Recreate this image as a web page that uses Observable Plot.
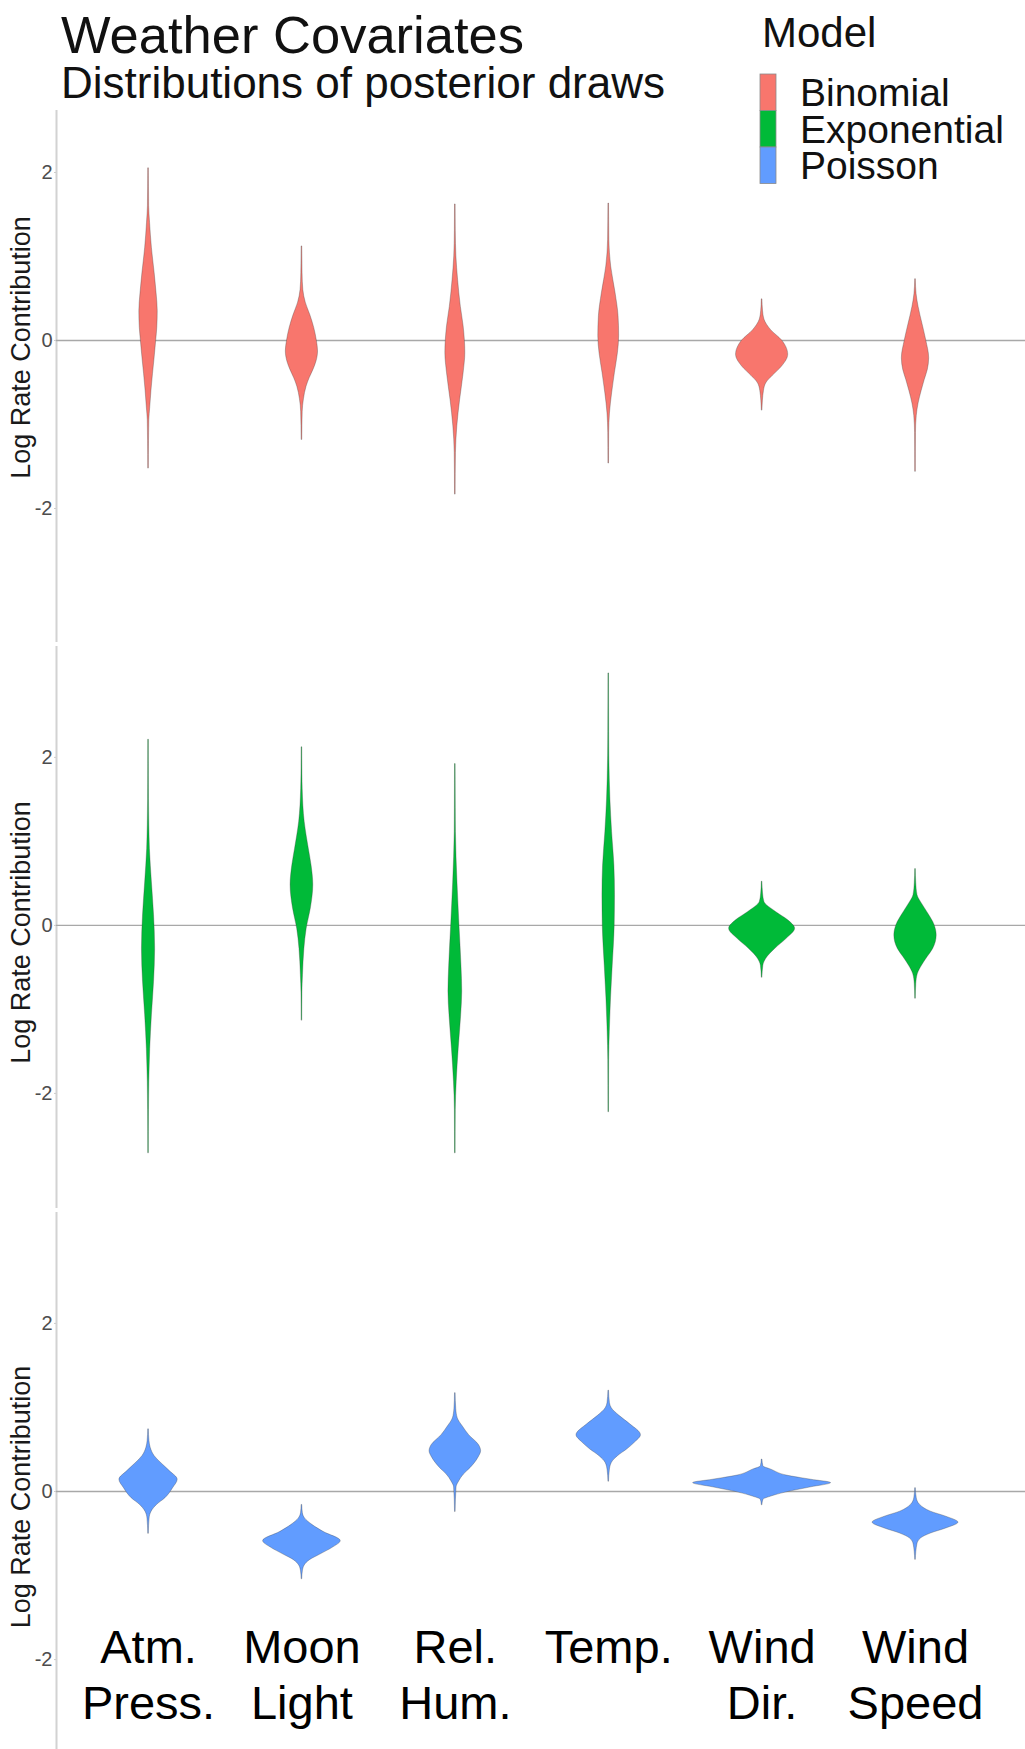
<!DOCTYPE html>
<html>
<head>
<meta charset="utf-8">
<script src="https://cdn.jsdelivr.net/npm/d3@7"></script>
<script src="https://cdn.jsdelivr.net/npm/@observablehq/plot@0.6"></script>
<style>
  html, body { margin: 0; padding: 0; background: #fff; }
  #page { position: relative; width: 1025px; height: 1749px; overflow: hidden; background: #fff;
          font-family: "Liberation Sans", Arial, Helvetica, sans-serif; }
  #page svg.panel { position: absolute; left: 0; }
  #overlay { position: absolute; left: 0; top: 0; z-index: 5; }
</style>
</head>
<body>
<div id="page"></div>
<script>
// ---------- data ----------
const covariates = ["Atm. Press.", "Moon Light", "Rel. Hum.", "Temp.", "Wind Dir.", "Wind Speed"];
const covariateLabels = ["Atm.\nPress.", "Moon\nLight", "Rel.\nHum.", "Temp.", "Wind\nDir.", "Wind\nSpeed"];
const models = ["Binomial", "Exponential", "Poisson"];
const modelColors = ["#F8766D", "#00BA38", "#619CFF"];
const yTicks = [-2, 0, 2];

// violin profiles: [log-rate value, half width (fraction of category spacing)]
const binomialAtm = [[2.05,0.002],[1.6,0.004],[1.4,0.01],[1.1,0.022],[0.8,0.04],[0.55,0.053],[0.35,0.06],[0.15,0.057],[0,0.05],[-0.2,0.04],[-0.4,0.029],[-0.6,0.019],[-0.8,0.011],[-0.95,0.005],[-1.2,0.003],[-1.52,0.002]];
const binomialMoon = [[1.12,0.002],[0.8,0.004],[0.6,0.009],[0.45,0.025],[0.3,0.055],[0.15,0.08],[0,0.097],[-0.13,0.105],[-0.25,0.095],[-0.35,0.075],[-0.45,0.05],[-0.55,0.03],[-0.7,0.013],[-0.85,0.005],[-1.18,0.002]];
const binomialRel = [[1.62,0.002],[1.3,0.003],[1.0,0.007],[0.72,0.018],[0.4,0.036],[0.17,0.054],[-0.15,0.065],[-0.39,0.054],[-0.71,0.031],[-1.02,0.013],[-1.34,0.004],[-1.83,0.002]];
const binomialTemp = [[1.63,0.002],[1.2,0.004],[0.88,0.016],[0.56,0.045],[0.29,0.064],[0.05,0.068],[-0.15,0.06],[-0.39,0.04],[-0.63,0.022],[-0.87,0.008],[-1.1,0.003],[-1.46,0.002]];
const binomialWindDir = [[0.49,0.002],[0.35,0.006],[0.25,0.015],[0.12,0.06],[0,0.13],[-0.17,0.17],[-0.31,0.13],[-0.42,0.07],[-0.5,0.03],[-0.6,0.012],[-0.83,0.002]];
const binomialWindSpeed = [[0.73,0.002],[0.55,0.007],[0.4,0.02],[0.2,0.045],[0,0.07],[-0.21,0.089],[-0.35,0.08],[-0.47,0.06],[-0.6,0.04],[-0.75,0.02],[-0.9,0.008],[-1.1,0.003],[-1.56,0.002]];

const exponentialAtm = [[2.21,0.002],[1.5,0.003],[1.2,0.005],[0.91,0.009],[0.51,0.022],[0.12,0.036],[-0.28,0.043],[-0.67,0.036],[-1.07,0.022],[-1.47,0.011],[-1.86,0.005],[-2.2,0.003],[-2.71,0.002]];
const exponentialMoon = [[2.12,0.002],[1.8,0.003],[1.62,0.005],[1.23,0.018],[0.91,0.045],[0.71,0.063],[0.48,0.074],[0.2,0.058],[-0.04,0.031],[-0.28,0.016],[-0.59,0.007],[-0.8,0.003],[-1.13,0.002]];
const exponentialRel = [[1.92,0.002],[1.4,0.003],[1.11,0.004],[0.51,0.014],[0,0.027],[-0.48,0.04],[-0.79,0.045],[-1.07,0.038],[-1.47,0.022],[-1.86,0.009],[-2.2,0.003],[-2.71,0.002]];
const exponentialTemp = [[3.0,0.002],[2.3,0.003],[2.02,0.004],[1.5,0.011],[1.11,0.022],[0.71,0.037],[0.36,0.041],[0,0.039],[-0.48,0.026],[-0.87,0.015],[-1.27,0.007],[-1.6,0.003],[-2.22,0.002]];
const exponentialWindDir = [[0.52,0.002],[0.38,0.006],[0.28,0.015],[0.16,0.09],[0.06,0.17],[-0.04,0.215],[-0.16,0.16],[-0.28,0.085],[-0.4,0.026],[-0.48,0.008],[-0.62,0.002]];
const exponentialWindSpeed = [[0.67,0.002],[0.5,0.005],[0.36,0.013],[0.25,0.045],[0.16,0.076],[0,0.125],[-0.12,0.138],[-0.28,0.115],[-0.38,0.078],[-0.48,0.042],[-0.58,0.015],[-0.7,0.005],[-0.87,0.002]];

const poissonAtm = [[0.74,0.002],[0.6,0.006],[0.52,0.014],[0.42,0.04],[0.36,0.07],[0.24,0.14],[0.14,0.19],[0.04,0.16],[-0.08,0.11],[-0.16,0.055],[-0.24,0.02],[-0.32,0.007],[-0.5,0.002]];
const poissonMoon = [[-0.16,0.002],[-0.26,0.006],[-0.32,0.02],[-0.4,0.07],[-0.48,0.14],[-0.59,0.253],[-0.67,0.2],[-0.75,0.12],[-0.82,0.05],[-0.88,0.018],[-0.95,0.006],[-1.04,0.002]];
const poissonRel = [[1.17,0.002],[0.98,0.006],[0.87,0.016],[0.77,0.05],[0.67,0.09],[0.55,0.155],[0.48,0.168],[0.4,0.15],[0.28,0.1],[0.2,0.055],[0.12,0.025],[0.05,0.008],[-0.24,0.002]];
const poissonTemp = [[1.2,0.002],[1.05,0.008],[0.99,0.02],[0.9,0.07],[0.8,0.14],[0.67,0.21],[0.58,0.17],[0.5,0.12],[0.42,0.06],[0.34,0.02],[0.25,0.007],[0.12,0.002]];
const poissonWindDir = [[0.38,0.002],[0.3,0.008],[0.26,0.06],[0.19,0.16],[0.14,0.32],[0.1,0.45],[0.05,0.32],[-0.01,0.16],[-0.06,0.06],[-0.1,0.008],[-0.16,0.002]];
const poissonWindSpeed = [[0.04,0.002],[-0.08,0.008],[-0.16,0.03],[-0.24,0.1],[-0.3,0.2],[-0.37,0.28],[-0.44,0.2],[-0.5,0.1],[-0.56,0.035],[-0.63,0.012],[-0.81,0.002]];

// ---------- layout / scales ----------
const FONT = "'Liberation Sans', Arial, Helvetica, sans-serif";
const W = 1025;
const xDomain = [-0.6, 5.717];
const panels = [
  {model: 0, profiles: [binomialAtm, binomialMoon, binomialRel, binomialTemp, binomialWindDir, binomialWindSpeed],
   top: 110, height: 532, yDomain: [-3.595, 2.738], labelDy: -29, xLabels: false},
  {model: 1, profiles: [exponentialAtm, exponentialMoon, exponentialRel, exponentialTemp, exponentialWindDir, exponentialWindSpeed],
   top: 646, height: 562, yDomain: [-3.37, 3.32], labelDy: 5, xLabels: false},
  {model: 2, profiles: [poissonAtm, poissonMoon, poissonRel, poissonTemp, poissonWindDir, poissonWindSpeed],
   top: 1212, height: 537, yDomain: [-3.07, 3.32], labelDy: 16, xLabels: true}
];

const page = document.getElementById("page");

for (const p of panels) {
  const rows = [];
  p.profiles.forEach((prof, i) => {
    prof.slice().sort((a, b) => a[0] - b[0]).forEach(([v, w]) => rows.push({i, v, w}));
  });
  const marks = [
    Plot.ruleX([xDomain[0]], {stroke: "#d2d2d2", strokeWidth: 2}),
    Plot.ruleY([0], {stroke: "#a8a8a8", strokeWidth: 1.3}),
    Plot.areaX(rows, {
      z: "i", y: "v",
      x1: d => d.i - d.w, x2: d => d.i + d.w,
      fill: modelColors[p.model], stroke: "#3a3a3a", strokeWidth: 0.45, strokeOpacity: 0.7,
      curve: "monotone-y"
    }),
    Plot.axisY(yTicks, {
      tickSize: 2, tickPadding: 2, fontSize: 20, fill: "#4d4d4d", stroke: "#cccccc",
      tickFormat: d => String(d), label: null
    }),
    Plot.text(["Log Rate Contribution"], {
      frameAnchor: "left", textAnchor: "middle", rotate: -90, dx: -35, dy: p.labelDy,
      fontSize: 27, fill: "#1a1a1a"
    })
  ];
  if (p.xLabels) {
    marks.push(Plot.text(covariateLabels.map((label, i) => ({i, label})), {
      x: "i", text: "label", frameAnchor: "bottom", lineAnchor: "top",
      lineHeight: 1.2, dy: -127, fontSize: 47, fill: "#000"
    }));
  }
  const svg = Plot.plot({
    width: W, height: p.height,
    marginLeft: 56, marginRight: 0, marginTop: 0, marginBottom: 0,
    x: {type: "linear", domain: xDomain, axis: null},
    y: {domain: p.yDomain, axis: null},
    style: {fontFamily: FONT, background: "none", overflow: "visible"},
    marks
  });
  svg.classList.add("panel");
  svg.style.top = p.top + "px";
  page.appendChild(svg);
}

// ---------- title, subtitle, legend ----------
const ov = d3.select(page).append("svg")
  .attr("id", "overlay").attr("width", W).attr("height", 200)
  .style("font-family", FONT);

ov.append("text").attr("x", 61).attr("y", 53).attr("font-size", 52.5).attr("fill", "#111")
  .text("Weather Covariates");
ov.append("text").attr("x", 61).attr("y", 98).attr("font-size", 44).attr("fill", "#111")
  .text("Distributions of posterior draws");

ov.append("text").attr("x", 762).attr("y", 47).attr("font-size", 42).attr("fill", "#111")
  .text("Model");
const keyH = 36.5;
models.forEach((m, k) => {
  ov.append("rect").attr("x", 760).attr("y", 74 + k * keyH).attr("width", 16).attr("height", keyH)
    .attr("fill", modelColors[k]).attr("stroke", "#8a8a8a").attr("stroke-width", 0.8);
  ov.append("text").attr("x", 800).attr("y", 106 + k * keyH).attr("font-size", 39).attr("fill", "#111")
    .text(m);
});
</script>
</body>
</html>
